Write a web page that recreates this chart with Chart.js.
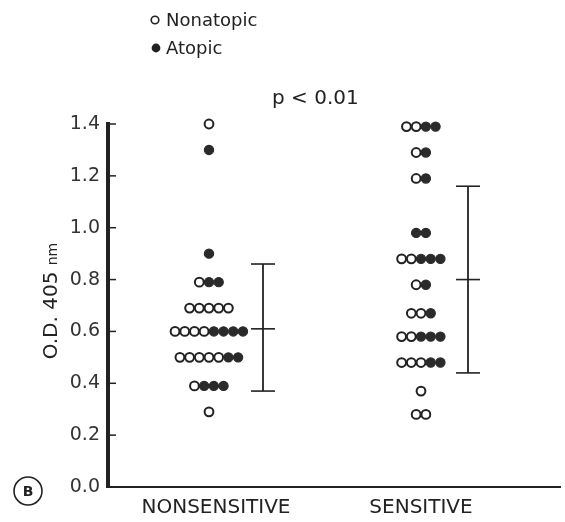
<!DOCTYPE html>
<html>
<head>
<meta charset="utf-8">
<script src="https://cdn.jsdelivr.net/npm/chart.js@4/dist/chart.umd.min.js"></script>
<style>
  html, body { margin: 0; padding: 0; background: #fff; }
  #wrap { width: 565px; height: 522px; }
</style>
</head>
<body>
<div id="wrap"><canvas id="chart" width="565" height="522"></canvas></div>
<script>
// groups on the x axis
const groups = ['NONSENSITIVE', 'SENSITIVE'];
const yTicks = [0, 0.2, 0.4, 0.6, 0.8, 1.0, 1.2, 1.4];

// nonsensitive: one row of dots per O.D. level (open = nonatopic, filled = atopic)
const nsLevels = [1.40, 1.30, 0.90, 0.79, 0.69, 0.60, 0.50, 0.39, 0.29];
const nsOpen   = [1, 0, 0, 1, 5, 4, 5, 1, 1];
const nsFilled = [0, 1, 1, 2, 0, 4, 2, 3, 0];

// sensitive
const sLevels = [1.39, 1.29, 1.19, 0.98, 0.88, 0.78, 0.67, 0.58, 0.48, 0.37, 0.28];
const sOpen   = [2, 1, 1, 0, 2, 1, 2, 2, 3, 1, 2];
const sFilled = [2, 1, 1, 2, 3, 1, 1, 3, 2, 0, 0];

// mean +/- SD bars, per group
const errTop    = [0.86, 1.16];
const errMean   = [0.61, 0.80];
const errBottom = [0.37, 0.44];

// layout (x scale runs 0..452 across the plot, i.e. px from the y axis)
const groupX = [101, 313];
const errX = [155, 360];
const labelX = [108, 313];
const DOT_GAP = 9.7;
const INK = '#222';

function buildDots(levels, opens, filleds, cx, kind) {
  const pts = [];
  levels.forEach((lv, r) => {
    const n = opens[r] + filleds[r];
    for (let i = 0; i < n; i++) {
      const isOpen = i < opens[r];
      if ((kind === 'open') !== isOpen) continue;
      pts.push({ x: cx + (i - (n - 1) / 2) * DOT_GAP, y: lv });
    }
  });
  return pts;
}

const openDots = buildDots(nsLevels, nsOpen, nsFilled, groupX[0], 'open')
  .concat(buildDots(sLevels, sOpen, sFilled, groupX[1], 'open'));
const filledDots = buildDots(nsLevels, nsOpen, nsFilled, groupX[0], 'filled')
  .concat(buildDots(sLevels, sOpen, sFilled, groupX[1], 'filled'));

const errSets = groups.map((g, i) => ({
  label: g + ' mean ± SD',
  data: [
    { x: errX[i], y: errBottom[i] },
    { x: errX[i], y: errMean[i] },
    { x: errX[i], y: errTop[i] }
  ],
  showLine: true,
  borderColor: INK,
  borderWidth: 1.8,
  pointStyle: 'line',
  pointRadius: 12,
  pointBorderColor: INK,
  pointBorderWidth: 1.6,
  clip: false
}));

const decor = {
  id: 'decor',
  afterDraw(chart) {
    const { ctx, chartArea } = chart;
    const y = chart.scales.y;
    ctx.save();
    ctx.strokeStyle = INK;
    ctx.fillStyle = INK;

    // inward tick marks
    ctx.lineWidth = 1.5;
    yTicks.forEach(t => {
      const py = y.getPixelForValue(t);
      ctx.beginPath();
      ctx.moveTo(chartArea.left, py);
      ctx.lineTo(chartArea.left + 8, py);
      ctx.stroke();
    });

    // y axis title, "nm" smaller
    ctx.save();
    ctx.translate(50, 301);
    ctx.rotate(-Math.PI / 2);
    ctx.textBaseline = 'alphabetic';
    ctx.textAlign = 'left';
    const big = '20px "DejaVu Sans"', small = '14px "DejaVu Sans"';
    ctx.font = big;
    const w1 = ctx.measureText('O.D. 405 ').width;
    ctx.font = small;
    const w2 = ctx.measureText('nm').width;
    const x0 = -(w1 + w2) / 2;
    ctx.font = big;
    ctx.fillText('O.D. 405 ', x0, 7);
    ctx.font = small;
    ctx.fillText('nm', x0 + w1, 7);
    ctx.restore();

    // legend
    ctx.font = '18px "DejaVu Sans"';
    ctx.textBaseline = 'middle';
    ctx.textAlign = 'left';
    ctx.lineWidth = 1.6;
    ctx.beginPath();
    ctx.arc(155, 20, 3.8, 0, Math.PI * 2);
    ctx.stroke();
    ctx.fillText('Nonatopic', 166, 21);
    ctx.beginPath();
    ctx.arc(156, 48, 4.4, 0, Math.PI * 2);
    ctx.fill();
    ctx.fillText('Atopic', 166, 49);

    // significance
    ctx.font = '20px "DejaVu Sans"';
    ctx.fillText('p < 0.01', 272, 99);

    // panel letter
    ctx.beginPath();
    ctx.arc(28, 491, 14, 0, Math.PI * 2);
    ctx.stroke();
    ctx.font = 'bold 14px "DejaVu Sans"';
    ctx.textAlign = 'center';
    ctx.fillText('B', 28, 492);
    ctx.restore();
  }
};

new Chart(document.getElementById('chart'), {
  type: 'scatter',
  data: {
    datasets: [
      {
        label: 'Nonatopic',
        data: openDots,
        pointStyle: 'circle',
        pointRadius: 4.4,
        pointBackgroundColor: '#fff',
        pointBorderColor: INK,
        pointBorderWidth: 2,
        clip: false
      },
      {
        label: 'Atopic',
        data: filledDots,
        pointStyle: 'circle',
        pointRadius: 4.6,
        pointBackgroundColor: '#2a2a2a',
        pointBorderColor: '#2a2a2a',
        pointBorderWidth: 1.2,
        clip: false
      },
      ...errSets
    ]
  },
  options: {
    responsive: false,
    animation: false,
    events: [],
    layout: { autoPadding: false, padding: { top: 124, right: 5, left: 0, bottom: 0 } },
    plugins: {
      legend: { display: false },
      tooltip: { enabled: false }
    },
    scales: {
      x: {
        type: 'linear',
        min: 0,
        max: 452,
        grid: { display: false, drawTicks: false },
        border: { display: true, width: 2, color: INK },
        afterBuildTicks: scale => { scale.ticks = labelX.map(v => ({ value: v })); },
        afterFit: scale => {
          scale.height = 35;
          scale.paddingLeft = 0;
          scale.paddingRight = 0;
        },
        ticks: {
          autoSkip: false,
          maxRotation: 0,
          padding: 9,
          color: INK,
          font: { family: 'DejaVu Sans', size: 20 },
          callback: (v, i) => groups[i]
        }
      },
      y: {
        min: 0,
        max: 1.4,
        grid: { display: false, drawTicks: false },
        border: { display: true, width: 4, color: INK },
        afterBuildTicks: scale => { scale.ticks = yTicks.map(v => ({ value: v })); },
        afterFit: scale => {
          scale.width = 108;
          scale.paddingTop = 0;
          scale.paddingBottom = 0;
        },
        ticks: {
          padding: 8,
          color: '#333',
          font: { family: 'DejaVu Sans', size: 19 },
          callback: v => v.toFixed(1)
        }
      }
    }
  },
  plugins: [decor]
});
</script>
</body>
</html>
